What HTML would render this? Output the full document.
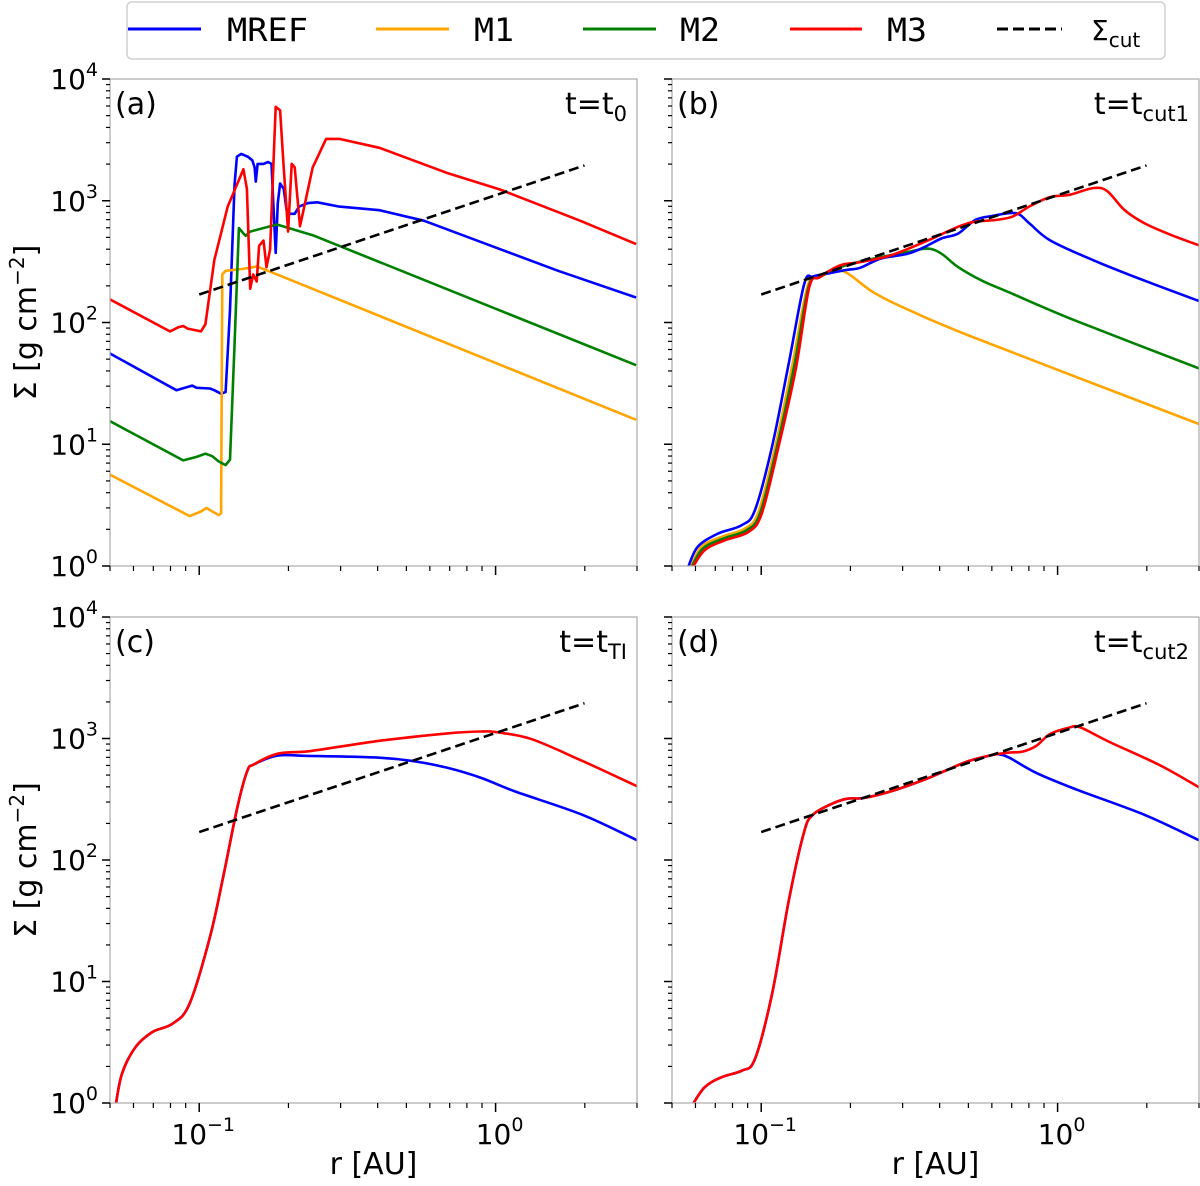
<!DOCTYPE html>
<html><head><meta charset="utf-8"><style>
html,body{margin:0;padding:0;background:#fff;}
svg text{font-family:"DejaVu Sans","Liberation Sans",sans-serif;fill:#000;}
</style></head><body>
<svg id="fig" width="1200" height="1181" viewBox="0 0 1200 1181" xmlns="http://www.w3.org/2000/svg">
<g id="legend">
<rect x="127" y="2" width="1038" height="57" rx="5" fill="#fff" stroke="#d0d0d0" stroke-width="1.5"/>
<g><line x1="128" y1="29" x2="201" y2="29" stroke="#0000ff" stroke-width="3"/><text x="227" y="41" font-size="32" style="font-family:'DejaVu Sans Mono','Liberation Mono',monospace" textLength="81" lengthAdjust="spacingAndGlyphs">MREF</text></g>
<g><line x1="376" y1="29" x2="449" y2="29" stroke="#ffa500" stroke-width="3"/><text x="474" y="41" font-size="32" style="font-family:'DejaVu Sans Mono','Liberation Mono',monospace" textLength="40" lengthAdjust="spacingAndGlyphs">M1</text></g>
<g><line x1="583" y1="29" x2="656" y2="29" stroke="#008000" stroke-width="3"/><text x="680" y="41" font-size="32" style="font-family:'DejaVu Sans Mono','Liberation Mono',monospace" textLength="40" lengthAdjust="spacingAndGlyphs">M2</text></g>
<g><line x1="790" y1="29" x2="862" y2="29" stroke="#ff0000" stroke-width="3"/><text x="887" y="41" font-size="32" style="font-family:'DejaVu Sans Mono','Liberation Mono',monospace" textLength="40" lengthAdjust="spacingAndGlyphs">M3</text></g>
<g><line x1="997" y1="29" x2="1062" y2="29" stroke="#000" stroke-width="3" stroke-dasharray="11,5"/><text x="1091" y="40" font-size="28">Σ<tspan font-size="20" dy="7">cut</tspan></text></g>
</g>
</svg>
<script>
// Panel data: log10(r [AU]) and log10(Sigma [g cm^-2])
const cutLogR = [-1.0, 0.30];
const cutLogS = [2.23, 3.29];

const aRefLogR = [-1.301,-1.077,-1.024,-1.009,-0.964,-0.949,-0.926,-0.911,-0.896,-0.881,-0.873,-0.858,-0.836,-0.821,-0.813,-0.809,-0.803,-0.783,-0.768,-0.756,-0.750,-0.742,-0.735,-0.727,-0.715,-0.705,-0.693,-0.678,-0.663,-0.633,-0.602,-0.527,-0.392,-0.241,-0.015,0.211,0.474];
const aRefLogS = [1.745,1.444,1.482,1.464,1.458,1.444,1.414,1.429,2.103,3.127,3.362,3.385,3.362,3.332,3.274,3.157,3.303,3.303,3.318,3.303,2.981,2.571,2.981,3.142,3.098,2.922,2.893,2.893,2.952,2.981,2.987,2.952,2.922,2.835,2.630,2.425,2.205];
const aM1LogR = [-1.301,-1.032,-0.994,-0.976,-0.956,-0.934,-0.926,-0.922,-0.911,-0.858,-0.806,-0.768,0.474];
const aM1LogS = [0.750,0.410,0.448,0.477,0.448,0.419,0.433,2.395,2.425,2.439,2.460,2.425,1.201];
const aM2LogR = [-1.301,-1.054,-1.009,-0.979,-0.956,-0.934,-0.911,-0.896,-0.881,-0.866,-0.851,-0.843,-0.828,-0.738,-0.617,0.474];
const aM2LogS = [1.189,0.867,0.896,0.922,0.902,0.858,0.829,0.873,1.810,2.776,2.732,2.712,2.747,2.805,2.717,1.649];
const aM3LogR = [-1.301,-1.099,-1.069,-1.054,-1.039,-0.994,-0.979,-0.949,-0.904,-0.851,-0.839,-0.828,-0.818,-0.806,-0.798,-0.783,-0.773,-0.761,-0.750,-0.742,-0.727,-0.715,-0.700,-0.688,-0.678,-0.660,-0.648,-0.617,-0.572,-0.527,-0.392,-0.166,0.015,0.286,0.474];
const aM3LogS = [2.190,1.927,1.962,1.971,1.950,1.927,1.985,2.512,2.952,3.259,3.098,2.278,2.395,2.337,2.630,2.673,2.454,2.600,3.274,3.772,3.742,3.274,2.747,3.303,3.274,2.791,2.922,3.274,3.508,3.508,3.435,3.230,3.092,2.835,2.644];

const bRefLogR = [-1.251,-1.215,-1.146,-1.066,-1.021,-0.963,-0.906,-0.855,-0.826,-0.781,-0.712,-0.666,-0.598,-0.506,-0.449,-0.392,-0.335,-0.278,-0.221,-0.141,-0.095,-0.026,0.122,0.294,0.477];
const bRefLogS = [-0.04,0.155,0.266,0.335,0.460,0.986,1.679,2.316,2.377,2.399,2.432,2.449,2.524,2.565,2.620,2.690,2.731,2.842,2.875,2.898,2.814,2.676,2.510,2.343,2.177];
const bM1LogR = [-1.243,-1.203,-1.135,-1.055,-1.009,-0.952,-0.895,-0.843,-0.803,-0.729,-0.621,-0.506,-0.278,0.477];
const bM1LogS = [-0.04,0.155,0.238,0.307,0.446,0.986,1.651,2.302,2.371,2.427,2.247,2.108,1.873,1.166];
const bM2LogR = [-1.241,-1.198,-1.129,-1.049,-1.003,-0.946,-0.889,-0.840,-0.803,-0.735,-0.621,-0.506,-0.438,-0.392,-0.335,-0.255,-0.163,0.065,0.477];
const bM2LogS = [-0.04,0.141,0.224,0.294,0.438,0.986,1.637,2.294,2.371,2.454,2.524,2.579,2.607,2.565,2.454,2.343,2.247,2.011,1.623];
const bM3LogR = [-1.238,-1.192,-1.123,-1.043,-0.998,-0.941,-0.883,-0.838,-0.803,-0.735,-0.666,-0.563,-0.449,-0.335,-0.278,-0.209,-0.152,-0.095,-0.026,0.042,0.122,0.168,0.225,0.294,0.385,0.477];
const bM3LogS = [-0.04,0.127,0.211,0.280,0.432,0.986,1.623,2.288,2.371,2.468,2.496,2.551,2.662,2.787,2.828,2.842,2.870,2.953,3.030,3.050,3.105,3.078,2.925,2.814,2.717,2.634];

const cRefLogR = [-1.283,-1.261,-1.215,-1.158,-1.089,-1.032,-0.963,-0.918,-0.872,-0.838,-0.815,-0.735,-0.621,-0.392,-0.278,-0.163,-0.049,0.065,0.294,0.477];
const cRefLogS = [-0.04,0.238,0.460,0.584,0.654,0.820,1.374,1.873,2.427,2.731,2.787,2.859,2.856,2.842,2.814,2.759,2.676,2.565,2.371,2.163];
const cM3LogR = [-1.283,-1.261,-1.215,-1.158,-1.089,-1.032,-0.963,-0.918,-0.872,-0.838,-0.815,-0.735,-0.621,-0.392,-0.163,-0.049,0.008,0.122,0.294,0.477];
const cM3LogS = [-0.04,0.238,0.460,0.584,0.654,0.820,1.374,1.873,2.427,2.731,2.787,2.875,2.898,2.981,3.042,3.058,3.050,2.994,2.814,2.607];

const dRefLogR = [-1.238,-1.192,-1.135,-1.066,-1.021,-0.963,-0.906,-0.855,-0.826,-0.769,-0.712,-0.655,-0.563,-0.449,-0.369,-0.301,-0.221,-0.198,-0.163,-0.072,0.065,0.294,0.477];
const dRefLogS = [-0.04,0.127,0.211,0.266,0.363,0.903,1.679,2.233,2.371,2.454,2.504,2.510,2.565,2.662,2.745,2.814,2.864,2.870,2.842,2.717,2.579,2.371,2.163];
const dM3LogR = [-1.238,-1.192,-1.135,-1.066,-1.021,-0.963,-0.906,-0.855,-0.826,-0.769,-0.712,-0.655,-0.563,-0.449,-0.369,-0.301,-0.221,-0.163,-0.118,-0.072,-0.026,0.042,0.077,0.179,0.351,0.477];
const dM3LogS = [-0.04,0.127,0.211,0.266,0.363,0.903,1.679,2.233,2.371,2.454,2.504,2.510,2.565,2.662,2.745,2.814,2.864,2.884,2.892,2.939,3.036,3.091,3.091,2.967,2.773,2.598];

const yTickExps = [0,1,2,3,4];
const xTickExps = [-1,0];

const NS = "http://www.w3.org/2000/svg";
const svg = document.getElementById('fig');
const XMIN = Math.log10(0.05), XMAX = Math.log10(3);
const panels = [
  {id:'a', x0:110, x1:637, y0:79, y1:566, label:'(a)', t:'0', xl:false, yl:true, smooth:false,
   series:[[aRefLogR,aRefLogS,'#0000ff','mref'],[aM1LogR,aM1LogS,'#ffa500','m1'],[aM2LogR,aM2LogS,'#008000','m2'],[aM3LogR,aM3LogS,'#ff0000','m3']]},
  {id:'b', x0:672, x1:1199, y0:79, y1:566, label:'(b)', t:'cut1', xl:false, yl:false, smooth:true,
   series:[[bM1LogR,bM1LogS,'#ffa500','m1'],[bM2LogR,bM2LogS,'#008000','m2'],[bRefLogR,bRefLogS,'#0000ff','mref'],[bM3LogR,bM3LogS,'#ff0000','m3']]},
  {id:'c', x0:110, x1:637, y0:617, y1:1103, label:'(c)', t:'TI', xl:true, yl:true, smooth:true,
   series:[[cRefLogR,cRefLogS,'#0000ff','mref'],[cM3LogR,cM3LogS,'#ff0000','m3']]},
  {id:'d', x0:672, x1:1199, y0:617, y1:1103, label:'(d)', t:'cut2', xl:true, yl:false, smooth:true,
   series:[[dRefLogR,dRefLogS,'#0000ff','mref'],[dM3LogR,dM3LogS,'#ff0000','m3']]}
];
function mk(tag, attrs, parent){const e=document.createElementNS(NS,tag);for(const k in attrs)e.setAttribute(k,attrs[k]);parent.appendChild(e);return e;}
function smoothPath(pts){
  let d='M'+pts[0][0].toFixed(1)+','+pts[0][1].toFixed(1);
  for(let i=0;i<pts.length-1;i++){
    const p0=pts[Math.max(0,i-1)],p1=pts[i],p2=pts[i+1],p3=pts[Math.min(pts.length-1,i+2)];
    const c1=[p1[0]+(p2[0]-p0[0])/6,p1[1]+(p2[1]-p0[1])/6];
    const c2=[p2[0]-(p3[0]-p1[0])/6,p2[1]-(p3[1]-p1[1])/6];
    d+='C'+c1[0].toFixed(1)+','+c1[1].toFixed(1)+' '+c2[0].toFixed(1)+','+c2[1].toFixed(1)+' '+p2[0].toFixed(1)+','+p2[1].toFixed(1);
  }
  return d;
}

panels.forEach(p=>{
  const sx = v => p.x0 + (v-XMIN)/(XMAX-XMIN)*(p.x1-p.x0);
  const sy = v => p.y1 - (v-0)/4*(p.y1-p.y0);
  const g = mk('g',{},svg);
  
  
  const clipId='clip'+p.id;
  const cp = mk('clipPath',{id:clipId},g);
  mk('rect',{x:p.x0,y:p.y0,width:p.x1-p.x0,height:p.y1-p.y0},cp);
  const sg = mk('g',{'clip-path':'url(#'+clipId+')'},g);
  p.series.forEach(s=>{
    const pts = s[0].map((v,i)=>[sx(v),sy(s[1][i])]);
    const d = p.smooth ? smoothPath(pts) : pts.map((q,i)=>(i?'L':'M')+q[0].toFixed(1)+','+q[1].toFixed(1)).join('');
    const path = mk('path',{d:d,fill:'none',stroke:s[2],'stroke-width':2.6,'stroke-linejoin':'round'},sg);
    
    
  });
  const cut = mk('line',{x1:sx(cutLogR[0]),y1:sy(cutLogS[0]),x2:sx(cutLogR[1]),y2:sy(cutLogS[1]),stroke:'#000','stroke-width':2.6,'stroke-dasharray':'10,5'},sg);
  
  
  const fr = mk('rect',{x:p.x0,y:p.y0,width:p.x1-p.x0,height:p.y1-p.y0,fill:'none',stroke:'#aaa','stroke-width':1.2},g);
  
  
  yTickExps.forEach(e=>{
    const y=sy(e);
    mk('line',{x1:p.x0-8,y1:y,x2:p.x0,y2:y,stroke:'#000','stroke-width':1.5},g);
    if(e<4){for(let m=2;m<=9;m++){const ym=sy(e+Math.log10(m));mk('line',{x1:p.x0-4,y1:ym,x2:p.x0,y2:ym,stroke:'#000','stroke-width':1.2},g);}}
    if(p.yl){
      const t=mk('text',{x:p.x0-12,y:y+10,'font-size':28,'text-anchor':'end'},g);
      t.textContent='10';
      const sup=mk('tspan',{'font-size':19,dy:-13},t); sup.textContent=String(e);
      
      
    }
  });
  xTickExps.forEach(e=>{
    const x=sx(e);
    mk('line',{x1:x,y1:p.y1,x2:x,y2:p.y1+9,stroke:'#000','stroke-width':1.5},g);
    if(p.xl){
      const t=mk('text',{x:x+4,y:p.y1+41,'font-size':28,'text-anchor':'middle'},g);
      t.textContent='10';
      const sup=mk('tspan',{'font-size':19,dy:-13},t); sup.textContent=(e<0?'\u2212'+(-e):String(e));
      
      
    }
  });
  for(let m=5;m<=9;m++){const x=sx(-2+Math.log10(m));mk('line',{x1:x,y1:p.y1,x2:x,y2:p.y1+5,stroke:'#000','stroke-width':1.2},g);}
  for(let m=2;m<=9;m++){const x=sx(-1+Math.log10(m));mk('line',{x1:x,y1:p.y1,x2:x,y2:p.y1+5,stroke:'#000','stroke-width':1.2},g);}
  for(let m=2;m<=3;m++){const x=sx(Math.log10(m));mk('line',{x1:x,y1:p.y1,x2:x,y2:p.y1+5,stroke:'#000','stroke-width':1.2},g);}
  const pl=mk('text',{x:p.x0+5,y:p.y0+35,'font-size':30},g); pl.textContent=p.label;
  
  
  const tl=mk('text',{x:p.x1-10,y:p.y0+35,'font-size':30,'text-anchor':'end'},g);
  tl.textContent='t=t';
  const sub=mk('tspan',{'font-size':21,dy:7},tl); sub.textContent=p.t;
  
  
  if(p.yl){
    const cy=(p.y0+p.y1)/2;
    const yt=mk('text',{x:0,y:0,'font-size':30,'text-anchor':'middle',transform:'translate(36,'+cy+') rotate(-90)'},g);
    yt.textContent='Σ [g cm';
    const s2=mk('tspan',{'font-size':20,dy:-12},yt); s2.textContent='\u22122';
    const s3=mk('tspan',{dy:12},yt); s3.textContent=']';
    
    
  }
  if(p.xl){
    const xt=mk('text',{x:(p.x0+p.x1)/2,y:1174,'font-size':30,'text-anchor':'middle'},g);
    xt.textContent='r [AU]';
    
    
  }
});
</script>
</body></html>
